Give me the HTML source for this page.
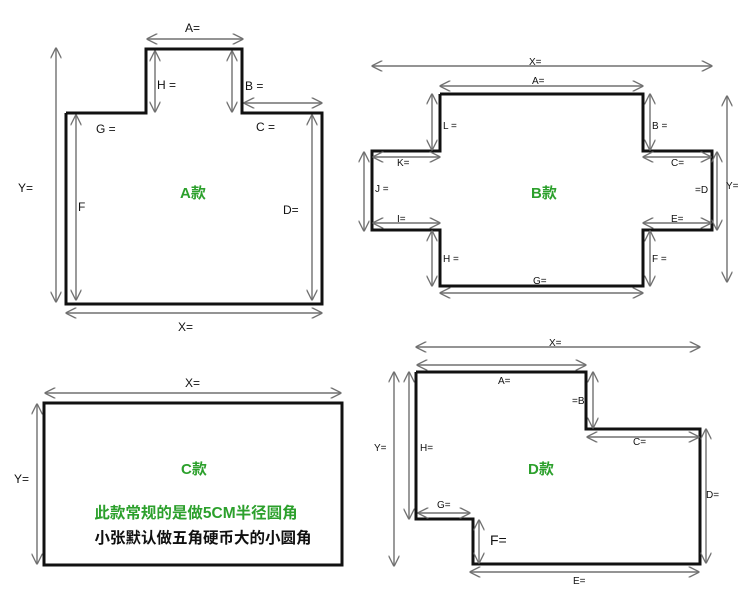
<!DOCTYPE html>
<html><head><meta charset="utf-8">
<style>
html,body{margin:0;padding:0;background:#fff;}
svg{display:block;}
text{font-family:"Liberation Sans","Noto Sans CJK SC",sans-serif;fill:#111;}
.s{fill:none;stroke:#111;stroke-width:3;}
.a{stroke:#707070;stroke-width:1.4;fill:none;marker-start:url(#m);marker-end:url(#m);}
.g{fill:#2ca02c;font-weight:bold;}
</style></head><body>
<svg width="750" height="596" viewBox="0 0 750 596" xmlns="http://www.w3.org/2000/svg">
<defs>
<marker id="m" viewBox="0 0 10 10" refX="9.5" refY="5" markerWidth="11" markerHeight="11" orient="auto-start-reverse" markerUnits="userSpaceOnUse">
<path d="M0,0 L10,5 L0,10" fill="none" stroke="#707070" stroke-width="1.2"/>
</marker>
</defs>

<!-- A -->
<polyline class="s" points="66,113 146,113 146,49 242,49 242,113 322,113 322,304 66,304 66,113"/>
<line class="a" x1="147" y1="39" x2="243" y2="39"/>
<line class="a" x1="155" y1="51" x2="155" y2="112"/>
<line class="a" x1="232" y1="51" x2="232" y2="112"/>
<line class="a" x1="244" y1="103" x2="322" y2="103"/>
<line class="a" x1="76" y1="115" x2="76" y2="300"/>
<line class="a" x1="312" y1="115" x2="312" y2="300"/>
<line class="a" x1="56" y1="48" x2="56" y2="302"/>
<line class="a" x1="66" y1="313" x2="322" y2="313"/>
<g font-size="12">
<text x="185" y="32">A=</text>
<text x="157" y="89">H =</text>
<text x="245" y="90">B =</text>
<text x="96" y="133">G =</text>
<text x="256" y="131">C =</text>
<text x="78" y="211">F</text>
<text x="283" y="214">D=</text>
<text x="18" y="192">Y=</text>
<text x="178" y="331">X=</text>
</g>
<text class="g" x="180" y="198" font-size="15">A款</text>

<!-- B -->
<polyline class="s" points="440,94 643,94 643,151 712,151 712,230 643,230 643,286 440,286 440,230 372,230 372,151 440,151 440,94"/>
<line class="a" x1="372" y1="66" x2="712" y2="66"/>
<line class="a" x1="440" y1="86" x2="643" y2="86"/>
<line class="a" x1="432" y1="94" x2="432" y2="150"/>
<line class="a" x1="650" y1="94" x2="650" y2="150"/>
<line class="a" x1="373" y1="157" x2="440" y2="157"/>
<line class="a" x1="643" y1="157" x2="711" y2="157"/>
<line class="a" x1="364" y1="152" x2="364" y2="231"/>
<line class="a" x1="717" y1="152" x2="717" y2="230"/>
<line class="a" x1="727" y1="96" x2="727" y2="282"/>
<line class="a" x1="373" y1="223" x2="440" y2="223"/>
<line class="a" x1="643" y1="223" x2="711" y2="223"/>
<line class="a" x1="432" y1="231" x2="432" y2="286"/>
<line class="a" x1="650" y1="231" x2="650" y2="286"/>
<line class="a" x1="440" y1="293" x2="643" y2="293"/>
<g font-size="10">
<text x="529" y="65">X=</text>
<text x="532" y="84">A=</text>
<text x="443" y="129">L =</text>
<text x="652" y="129">B =</text>
<text x="397" y="166">K=</text>
<text x="671" y="166">C=</text>
<text x="375" y="192">J =</text>
<text x="695" y="193">=D</text>
<text x="726" y="189">Y=</text>
<text x="397" y="222">I=</text>
<text x="671" y="222">E=</text>
<text x="443" y="262">H =</text>
<text x="652" y="262">F =</text>
<text x="533" y="284">G=</text>
</g>
<text class="g" x="531" y="198" font-size="15">B款</text>

<!-- C -->
<rect class="s" x="44" y="403" width="298" height="162"/>
<line class="a" x1="45" y1="393" x2="341" y2="393"/>
<line class="a" x1="37" y1="404" x2="37" y2="564"/>
<g font-size="12">
<text x="185" y="387">X=</text>
<text x="14" y="483">Y=</text>
</g>
<text class="g" x="181" y="474" font-size="15">C款</text>
<text class="g" x="196" y="518" font-size="15.5" text-anchor="middle">此款常规的是做5CM半径圆角</text>
<text x="203" y="543" font-size="15.5" font-weight="bold" text-anchor="middle">小张默认做五角硬币大的小圆角</text>

<!-- D -->
<polyline class="s" points="416,372 586,372 586,429 700,429 700,564 473,564 473,519 416,519 416,372"/>
<line class="a" x1="416" y1="347" x2="700" y2="347"/>
<line class="a" x1="417" y1="365" x2="586" y2="365"/>
<line class="a" x1="593" y1="372" x2="593" y2="428"/>
<line class="a" x1="587" y1="437" x2="699" y2="437"/>
<line class="a" x1="706" y1="429" x2="706" y2="563"/>
<line class="a" x1="470" y1="572" x2="699" y2="572"/>
<line class="a" x1="479" y1="520" x2="479" y2="563"/>
<line class="a" x1="418" y1="513" x2="470" y2="513"/>
<line class="a" x1="409" y1="372" x2="409" y2="519"/>
<line class="a" x1="394" y1="372" x2="394" y2="566"/>
<g font-size="10">
<text x="549" y="346">X=</text>
<text x="498" y="384">A=</text>
<text x="572" y="404">=B</text>
<text x="633" y="445">C=</text>
<text x="706" y="498">D=</text>
<text x="573" y="584">E=</text>
<text x="437" y="508">G=</text>
<text x="420" y="451">H=</text>
<text x="374" y="451">Y=</text>
</g>
<text x="490" y="545" font-size="14">F=</text>
<text class="g" x="528" y="474" font-size="15">D款</text>
</svg>
</body></html>
